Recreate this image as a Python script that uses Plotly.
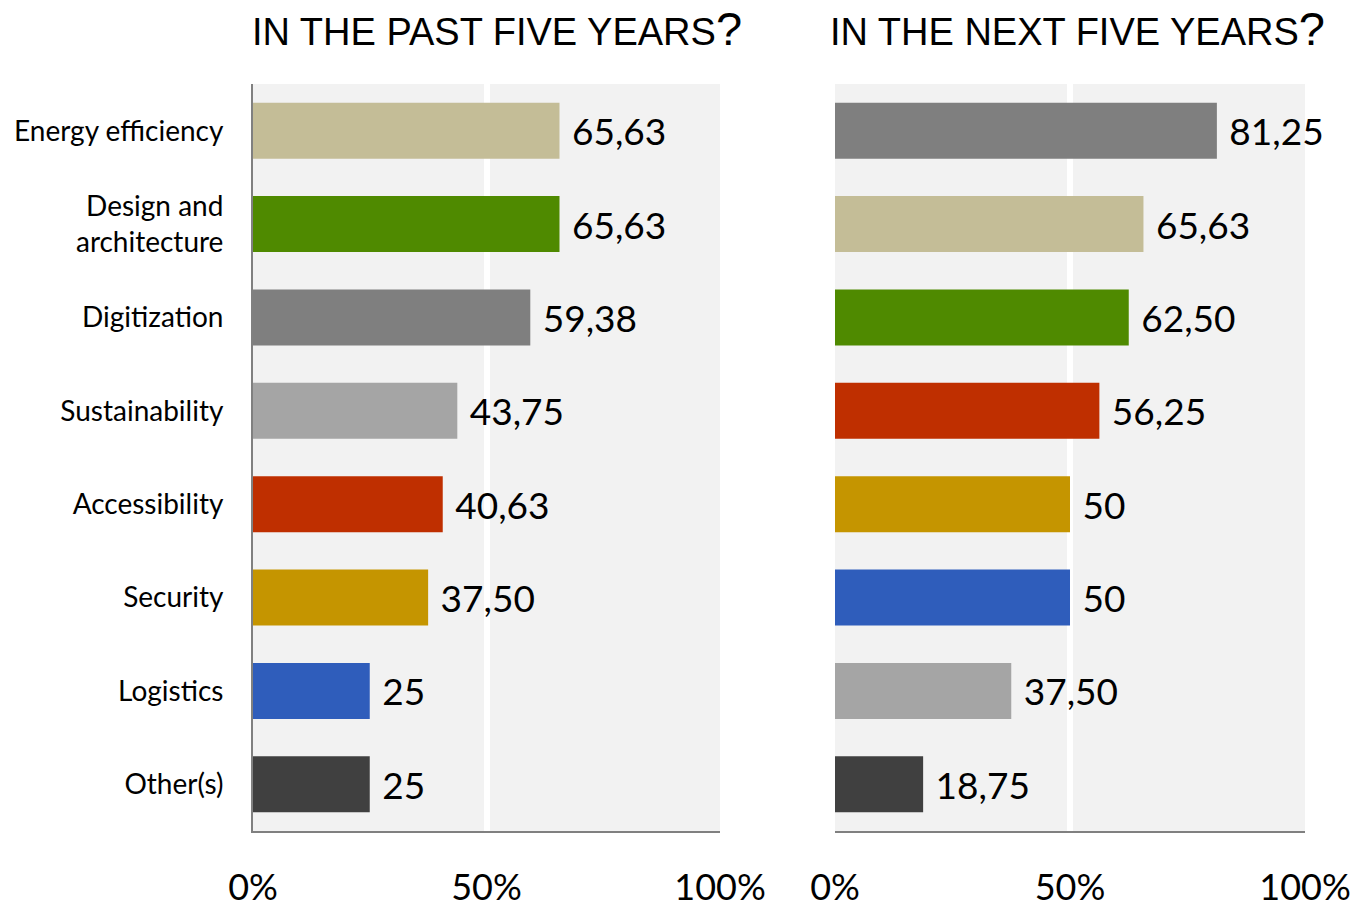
import plotly.graph_objects as go

categories_past = ["Energy efficiency", "Design and<br>architecture", "Digitization", "Sustainability",
                   "Accessibility", "Security", "Logistics", "Other(s)"]
values_past = [65.63, 65.63, 59.38, 43.75, 40.63, 37.50, 25, 25]
colors_past = ["#c4bd97", "#4f8a00", "#7f7f7f", "#a5a5a5", "#bf2f00", "#c59500", "#2f5dbb", "#404040"]

categories_next = ["Digitization", "Energy efficiency", "Design and architecture", "Accessibility",
                   "Security", "Logistics", "Sustainability", "Other(s)"]
values_next = [81.25, 65.63, 62.50, 56.25, 50, 50, 37.50, 18.75]
colors_next = ["#7f7f7f", "#c4bd97", "#4f8a00", "#bf2f00", "#c59500", "#2f5dbb", "#a5a5a5", "#404040"]

tick_vals = [0, 50, 100]
tick_text = ["0%", "50%", "100%"]


def fmt(v):
    s = f"{v:.2f}".replace(".", ",")
    if s.endswith(",00"):
        s = s[:-3]
    return "\u00a0" + s


FONT = "Lato"
LABEL_SIZE = 37
W, H = 1360, 904
OX, OY = 8, 8  # page body margin offset


def px(x):
    return (x - OX) / W


def py(y):
    return 1 - (y - OY) / H


fig = go.Figure()
fig.add_trace(go.Bar(
    y=categories_past, x=values_past, orientation="h", marker=dict(color=colors_past, line=dict(width=0)),
    text=[fmt(v) for v in values_past], textposition="outside", cliponaxis=False,
    textfont=dict(size=LABEL_SIZE, color="#000000", family=FONT), width=0.6,
    xaxis="x", yaxis="y", hoverinfo="skip"))
fig.add_trace(go.Bar(
    y=categories_next, x=values_next, orientation="h", marker=dict(color=colors_next, line=dict(width=0)),
    text=[fmt(v) for v in values_next], textposition="outside", cliponaxis=False,
    textfont=dict(size=LABEL_SIZE, color="#000000", family=FONT), width=0.6,
    xaxis="x2", yaxis="y2", hoverinfo="skip"))

xcommon = dict(range=[0, 100], tickvals=tick_vals, ticktext=tick_text, showgrid=True,
               gridcolor="#ffffff", gridwidth=6, zeroline=False, showline=True, linecolor="#808080",
               linewidth=2, ticks="", tickfont=dict(size=36, family=FONT, color="#000000"),
               ticklabelstandoff=24, fixedrange=True, automargin=False)
fig.update_layout(
    width=W, height=H, margin=dict(l=0, r=0, t=0, b=0, autoexpand=False),
    paper_bgcolor="#ffffff", plot_bgcolor="#f2f2f2", showlegend=False,
    font=dict(family=FONT, color="#000000"),
    xaxis=dict(domain=[px(253), px(720)], anchor="y", **xcommon),
    xaxis2=dict(domain=[px(835), px(1305)], anchor="y2", **xcommon),
    yaxis=dict(domain=[py(831), py(84)], anchor="x", autorange="reversed",
               showline=True, linecolor="#808080", linewidth=2, showgrid=False, ticks="",
               tickfont=dict(size=28, family=FONT, color="#000000"), ticklabelstandoff=22,
               automargin=False),
    yaxis2=dict(domain=[py(831), py(84)], anchor="x2", autorange="reversed",
                showline=False, showgrid=False, showticklabels=False, ticks="", automargin=False),
    bargap=0.4,
)

titles = [("IN THE PAST FIVE YEARS", 497), ("IN THE NEXT FIVE YEARS", 1077)]
for t, xc in titles:
    fig.add_annotation(
        x=px(xc), y=py(28), xref="paper", yref="paper", showarrow=False,
        xanchor="center", yanchor="middle",
        text=t + "<span style='font-size:47px'>?</span>",
        font=dict(family="Liberation Sans", size=38, color="#000000"))

fig.write_html("out.html")
